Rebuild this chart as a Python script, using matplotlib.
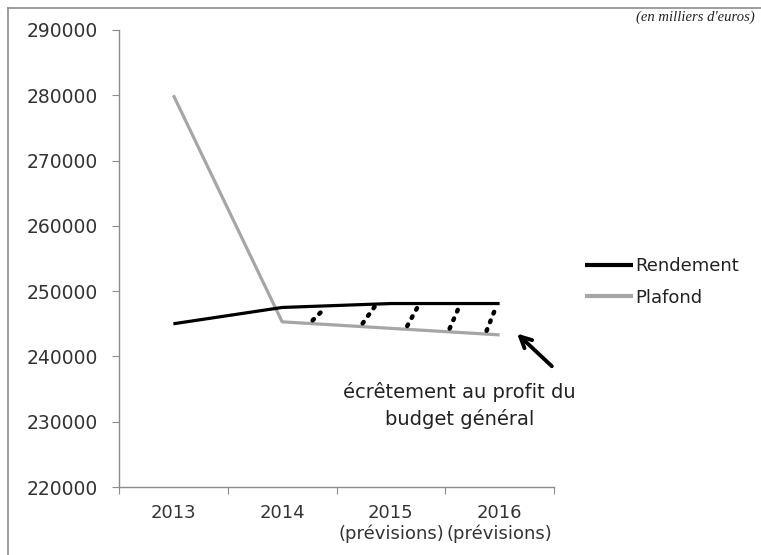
import numpy as np
import matplotlib.pyplot as plt
from matplotlib.lines import Line2D

years = ['2013', '2014', '2015\n(prévisions)', '2016\n(prévisions)']
rendement = [245000, 247500, 248100, 248100]
plafond = [280000, 245300, 244300, 243300]

# dotted hatching between the two curves (start on plafond, end on rendement)
hatch_x_bottom = [1.28, 1.74, 2.15, 2.54, 2.88]
hatch_x_top = [1.39, 1.85, 2.25, 2.63, 2.97]

note = 'écrêtement au profit du\nbudget général'
unit = "(en milliers d'euros)"

plt.rcParams['font.family'] = ['DejaVu Sans']

fig = plt.figure(figsize=(7.61, 5.55), dpi=100)
ax = fig.add_axes([0.1564, 0.1225, 0.5716, 0.8235])

x = np.arange(len(years))
ax.plot(x, rendement, color='black', lw=2.3, label='Rendement', solid_capstyle='butt', zorder=3)
ax.plot(x, plafond, color='#a6a6a6', lw=2.3, label='Plafond', solid_capstyle='butt', zorder=2)

for xb, xt in zip(hatch_x_bottom, hatch_x_top):
    yb = np.interp(xb, x, plafond) + 500
    yt = np.interp(xt, x, rendement) - 400
    ax.plot([xb, xt], [yb, yt], color='black', lw=3.2, linestyle=(0, (0.4, 1.7)),
            dash_capstyle='round', zorder=4)

ax.set_xlim(-0.5, 3.5)
ax.set_ylim(220000, 290000)
ax.set_yticks(np.arange(220000, 290001, 10000))
ax.set_xticks(np.arange(-0.5, 3.6, 1.0))
ax.set_xticklabels([])
ax.set_xticks(x, minor=True)
ax.set_xticklabels(years, minor=True)

for s in ['top', 'right']:
    ax.spines[s].set_visible(False)
for s in ['left', 'bottom']:
    ax.spines[s].set_color('#8c8c8c')
    ax.spines[s].set_linewidth(1.0)

ax.tick_params(axis='y', direction='out', length=5, color='#8c8c8c',
               labelsize=13.5, labelcolor='#333333', pad=10)
ax.tick_params(axis='x', which='major', direction='out', length=5, color='#8c8c8c')
ax.tick_params(axis='x', which='minor', length=0, labelsize=13,
               labelcolor='#333333', pad=12)

leg = ax.legend(loc='center left', bbox_to_anchor=(585 / 761, 1 - 282 / 555),
                bbox_transform=fig.transFigure, frameon=False, fontsize=13,
                handlelength=2.65, handletextpad=0.15, labelspacing=0.75,
                borderpad=0, borderaxespad=0)
for t in leg.get_texts():
    t.set_color('#222222')
for h in leg.legend_handles:
    h.set_linewidth(3)

ax.annotate('', xy=(3.16, 243500), xytext=(3.48, 238500),
            arrowprops=dict(arrowstyle='->', color='black', lw=2.8,
                            mutation_scale=20, shrinkA=0, shrinkB=0),
            annotation_clip=False)
ax.text(2.63, 232500, note, ha='center', va='center', fontsize=14,
        color='#222222', linespacing=1.45)

# outer frame of the figure (left and top edges only)
fig.add_artist(Line2D([8 / 761, 8 / 761], [0, 1 - 8 / 555], color='#8c8c8c', lw=1.2,
                      transform=fig.transFigure))
fig.add_artist(Line2D([8 / 761, 1], [1 - 8 / 555, 1 - 8 / 555], color='#8c8c8c', lw=1.2,
                      transform=fig.transFigure))
fig.text(755 / 761, 1 - 11 / 555, unit, ha='right', va='top', fontsize=10.5,
         family='Liberation Serif', style='italic', color='#222222')

fig.savefig('out.png', dpi=100)
